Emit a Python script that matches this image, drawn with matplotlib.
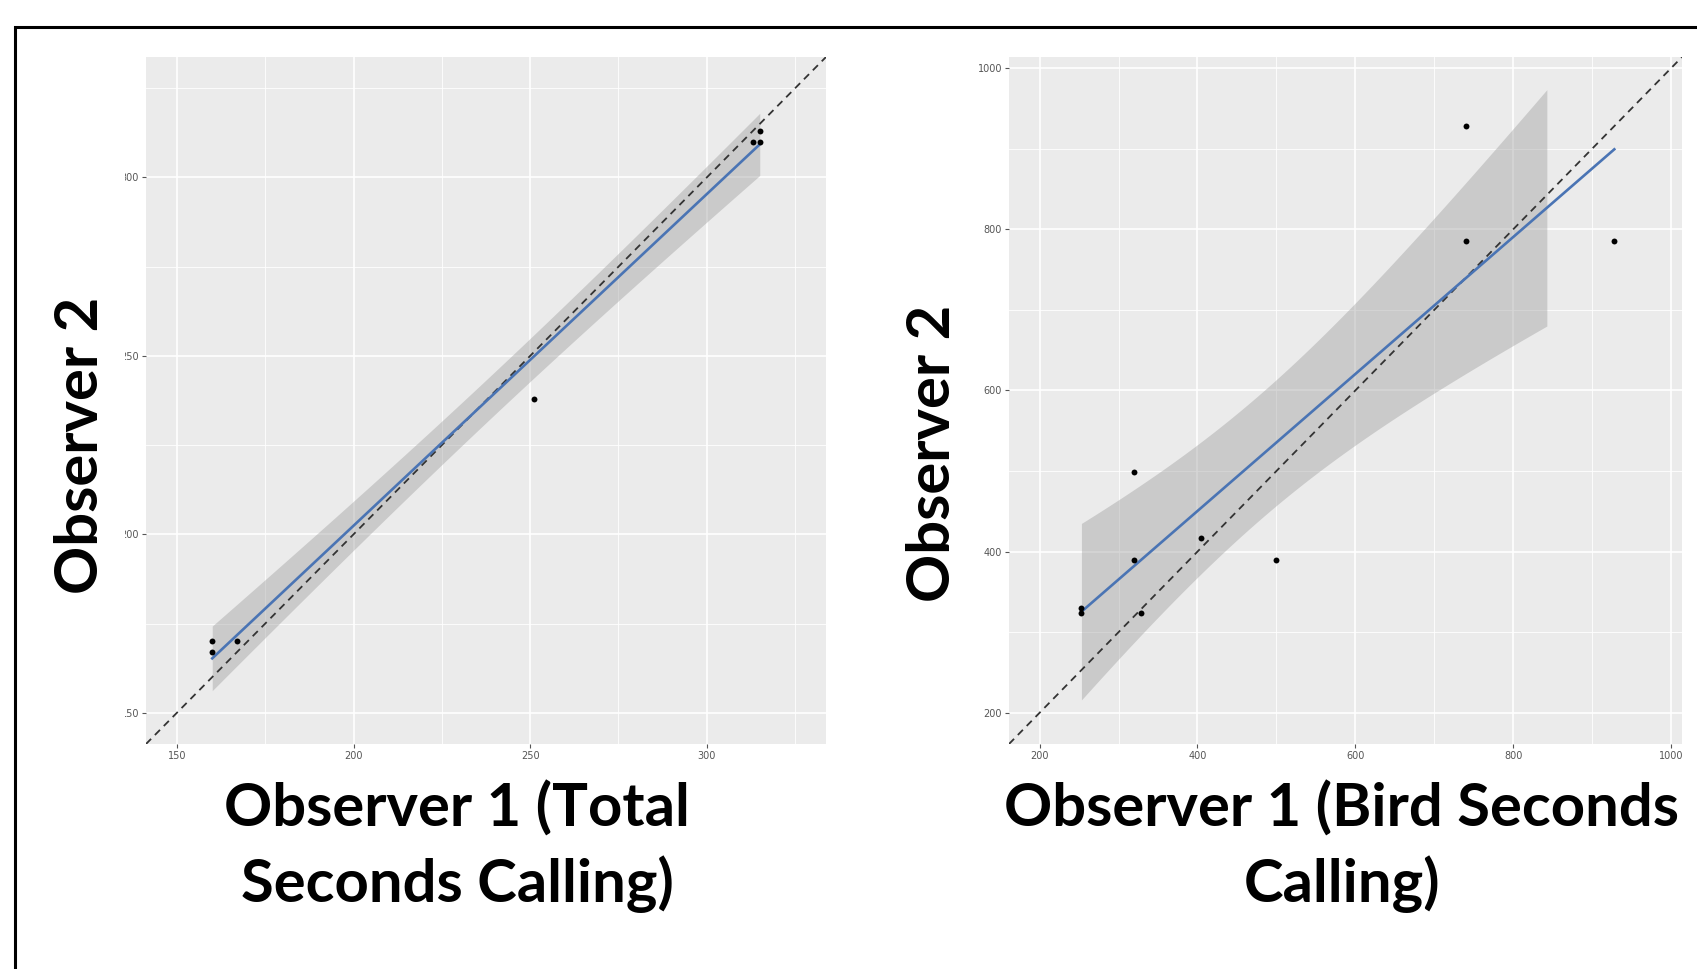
import numpy as np
import matplotlib
matplotlib.use('Agg')
import matplotlib.pyplot as plt
from matplotlib.patches import Rectangle
from matplotlib.transforms import Bbox

# total seconds calling, observer 1 vs observer 2
total_obs1 = [160, 160, 167, 251, 313, 315, 315]
total_obs2 = [170, 167, 170, 238, 310, 313, 310]

# bird seconds calling, observer 1 vs observer 2
bird_obs1 = [253, 253, 320, 320, 329, 404, 499, 740, 740, 928]
bird_obs2 = [330, 324, 499, 389, 324, 417, 389, 928, 786, 786]

total_lims = (150, 325)
total_major = [150, 200, 250, 300]
total_minor = [175, 225, 275, 325]

bird_lims = (200, 975)
bird_major = [200, 400, 600, 800, 1000]
bird_minor = [300, 500, 700, 900]

W, H = 1697, 969
fig = plt.figure(figsize=(W / 100, H / 100), dpi=100)
fig.patch.set_facecolor('white')

label_font = 'Lato'


def lm_band(x, y, n=80):
    # straight line fit with a 95% confidence ribbon, like geom_smooth(method='lm')
    x = np.asarray(x, float)
    y = np.asarray(y, float)
    k = len(x)
    b, a = np.polyfit(x, y, 1)
    xs = np.linspace(x.min(), x.max(), n)
    fit = a + b * xs
    resid = y - (a + b * x)
    s = np.sqrt(np.sum(resid ** 2) / (k - 2))
    sxx = np.sum((x - x.mean()) ** 2)
    se = s * np.sqrt(1 / k + (xs - x.mean()) ** 2 / sxx)
    tq = {5: 2.571, 8: 2.306}[k - 2]
    return xs, fit, fit - tq * se, fit + tq * se


def panel(rect, x, y, lims, major, minor):
    ax = fig.add_axes(rect)
    ax.set_facecolor('#ebebeb')
    span = lims[1] - lims[0]
    lo, hi = lims[0] - 0.05 * span, lims[1] + 0.05 * span
    ax.set_xlim(lo, hi)
    ax.set_ylim(lo, hi)
    for v in minor:
        ax.axvline(v, color='white', lw=0.6, zorder=0)
        ax.axhline(v, color='white', lw=0.6, zorder=0)
    for v in major:
        ax.axvline(v, color='white', lw=1.2, zorder=0)
        ax.axhline(v, color='white', lw=1.2, zorder=0)

    xs, fit, lower, upper = lm_band(x, y)
    # ribbon rows falling outside the scale limits are dropped
    keep = (upper <= lims[1]) & (lower >= lims[0])
    ax.fill_between(xs[keep], lower[keep], upper[keep], color='#999999',
                    alpha=0.4, lw=0, zorder=1)
    ax.plot(xs, fit, color='#4a74b4', lw=1.9, zorder=3)
    ax.axline((lims[0], lims[0]), slope=1, color='#333333', lw=1.3,
              ls=(0, (4, 3)), zorder=2)
    ax.scatter(x, y, s=18, color='black', zorder=4, linewidths=0)

    ax.set_xticks(major)
    ax.set_yticks(major)
    ax.set_xticklabels([str(v) for v in major])
    ax.set_yticklabels([str(v) for v in major])
    ax.tick_params(length=3, width=0.8, color='#555555', labelsize=7,
                   labelcolor='#555555', pad=2)
    for sp in ax.spines.values():
        sp.set_visible(False)
    return ax


ax1 = panel([146 / W, 1 - 744 / H, 680 / W, 687 / H],
            total_obs1, total_obs2, total_lims, total_major, total_minor)
ax2 = panel([1009 / W, 1 - 744 / H, 673 / W, 687 / H],
            bird_obs1, bird_obs2, bird_lims, bird_major, bird_minor)

# left panel's y labels are cut short at the image edge
clip = Bbox.from_extents(125, 0, W, H)
for lab in ax1.get_yticklabels():
    lab.set_clip_box(clip)
    lab.set_clip_on(True)

kw = dict(family=label_font, fontweight='bold', fontsize=43, color='black',
          ha='center', va='center', linespacing=1.4)
fig.text(81 / W, 1 - 445 / H, 'Observer 2', rotation=90, **kw)
fig.text(933 / W, 1 - 453 / H, 'Observer 2', rotation=90, **kw)
fig.text(457 / W, 1 - 847 / H, 'Observer 1 (Total\nSeconds Calling)', **kw)
fig.text(1342 / W, 1 - 847 / H, 'Observer 1 (Bird Seconds\nCalling)', **kw)

fig.add_artist(Rectangle((15 / W, -0.05), 1.2, 1 - 27 / H + 0.05,
                         transform=fig.transFigure, fill=False,
                         edgecolor='black', lw=2.2))

fig.savefig('out.png', dpi=100, facecolor='white')
